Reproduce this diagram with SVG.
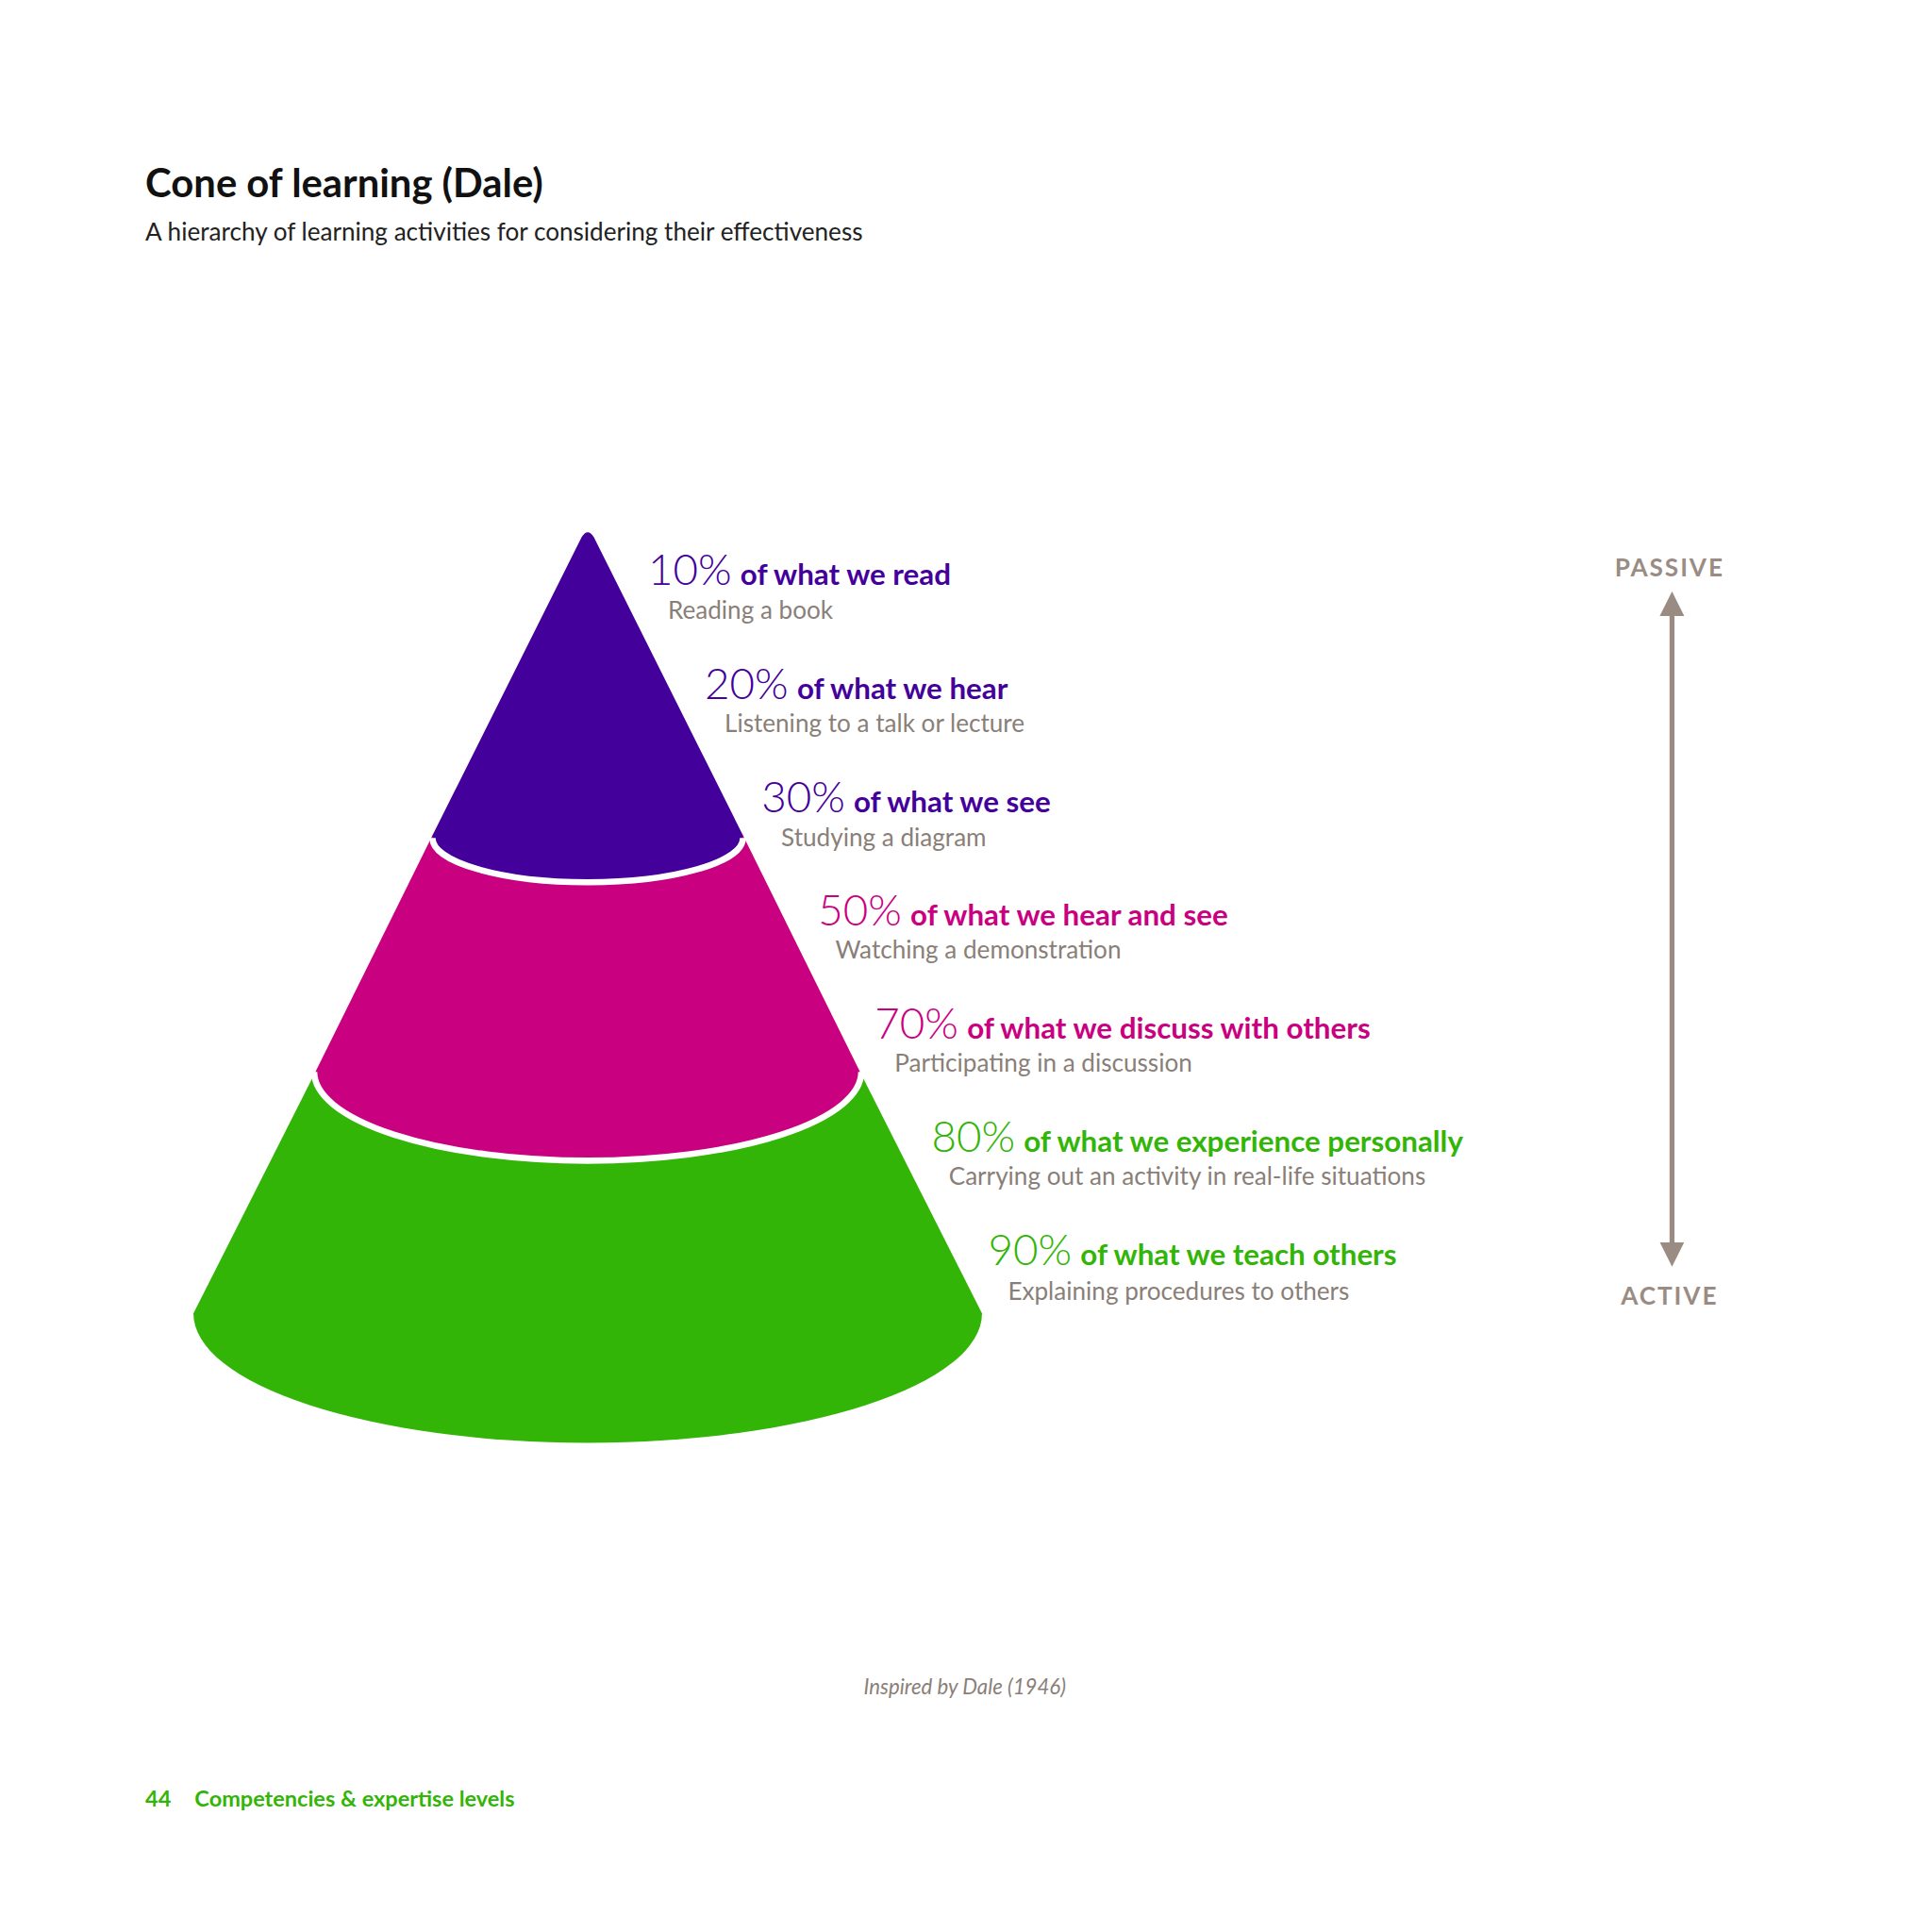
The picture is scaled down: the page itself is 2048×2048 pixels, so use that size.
<svg xmlns="http://www.w3.org/2000/svg" width="2048" height="2048" viewBox="0 0 2048 2048">
<defs>
<style>
text{font-family:"Lato","Liberation Sans",sans-serif}
.pct{font-size:35px;font-weight:300}
.lab{font-size:24px;font-weight:700}
.sub{font-size:20px;fill:#8a7f78}
.p{fill:#44009a}.m{fill:#c9007f}.g{fill:#32b506}
.sep{fill:none;stroke:#fff;stroke-width:5}
</style>
<marker id="ah" viewBox="0 0 10 10" refX="5" refY="5" markerWidth="5" markerHeight="5" orient="auto-start-reverse"><path d="M0,0 L10,5 L0,10 Z" fill="#9a8c82"/></marker>
</defs>
<rect width="2048" height="2048" fill="#fff"/>
<g transform="scale(1.30612)">
<g id="title">
<text x="118" y="160" font-size="32" font-weight="700" fill="#111">Cone of learning (Dale)</text>
<text x="118" y="195" font-size="20" fill="#222">A hierarchy of learning activities for considering their effectiveness</text>
</g>
<g id="cone">
<path class="g" d="M256,870 L157,1066 A320,105 0 0 0 797,1066 L698,870 Z"/>
<path class="m" d="M351,678 L256,870 A221,72 0 0 0 698,870 L603,678 Z"/>
<path class="p" d="M472,436 Q477,428 482,436 L603,678 A126,36 0 0 1 351,678 Z"/>
<path class="sep" d="M351,680 A126,36 0 0 0 603,680"/>
<path class="sep" d="M255,870 A222,72 0 0 0 699,870"/>
</g>
<g id="labels">
<text x="526" y="475"><tspan class="pct p">10%</tspan><tspan class="lab p" dx="7">of what we read</tspan></text>
<text class="sub" x="542" y="502">Reading a book</text>
<text x="572" y="567"><tspan class="pct p">20%</tspan><tspan class="lab p" dx="7">of what we hear</tspan></text>
<text class="sub" x="588" y="594">Listening to a talk or lecture</text>
<text x="618" y="659"><tspan class="pct p">30%</tspan><tspan class="lab p" dx="7">of what we see</tspan></text>
<text class="sub" x="634" y="687">Studying a diagram</text>
<text x="664" y="751"><tspan class="pct m">50%</tspan><tspan class="lab m" dx="7">of what we hear and see</tspan></text>
<text class="sub" x="678" y="778">Watching a demonstration</text>
<text x="710" y="843"><tspan class="pct m">70%</tspan><tspan class="lab m" dx="7">of what we discuss with others</tspan></text>
<text class="sub" x="726" y="870">Participating in a discussion</text>
<text x="756" y="935"><tspan class="pct g">80%</tspan><tspan class="lab g" dx="7">of what we experience personally</tspan></text>
<text class="sub" x="770" y="962">Carrying out an activity in real-life situations</text>
<text x="802" y="1027"><tspan class="pct g">90%</tspan><tspan class="lab g" dx="7">of what we teach others</tspan></text>
<text class="sub" x="818" y="1055">Explaining procedures to others</text>
</g>
<g id="connectors">
<line x1="1357" y1="490" x2="1357" y2="1018" stroke="#9a8c82" stroke-width="4" marker-start="url(#ah)" marker-end="url(#ah)"/>
</g>
<g id="scale">
<text x="1355" y="468" text-anchor="middle" font-size="20" font-weight="700" fill="#9a8c82" letter-spacing="1.5">PASSIVE</text>
<text x="1355" y="1059" text-anchor="middle" font-size="20" font-weight="700" fill="#9a8c82" letter-spacing="1.5">ACTIVE</text>
</g>
<text x="783" y="1375" text-anchor="middle" font-size="17" font-style="italic" fill="#8a7f78">Inspired by Dale (1946)</text>
<g id="footer">
<text x="118" y="1466" font-size="18" font-weight="700" fill="#32b506">44</text>
<text x="158" y="1466" font-size="18" font-weight="700" fill="#32b506">Competencies &amp; expertise levels</text>
</g>
</g>
</svg>
